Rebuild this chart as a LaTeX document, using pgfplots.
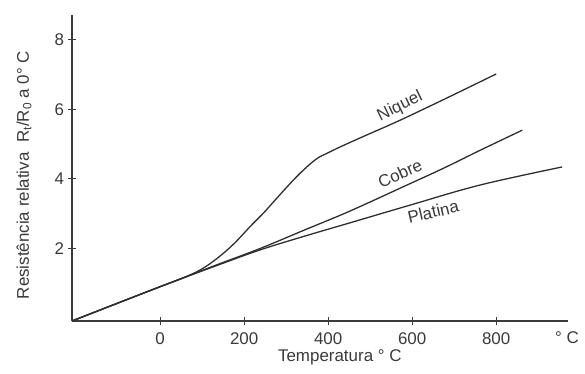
\documentclass[border=0pt]{standalone}
\usepackage{pgfplots}
\pgfplotsset{compat=1.18}
\usepackage{fontspec}
\setmainfont{Liberation Sans}
\usetikzlibrary{calc}
\definecolor{ink}{HTML}{3A3A3A}
\definecolor{curve}{HTML}{2E2E2E}
\newcommand{\fs}{\fontsize{17}{19}\selectfont}
\begin{document}
\begin{tikzpicture}
\begin{axis}[name=ax, scale only axis, width=496bp, height=306bp,
  xmin=-210, xmax=971, ymin=-0.1, ymax=8.72,
  axis lines=left, axis line style={ink, line width=1.1pt, -},
  xtick={0,200,400,600,800}, ytick={2,4,6,8},
  tick align=center, major tick length=7bp, tick style={ink, line width=1pt},
  ticklabel style={font=\fs, text=ink},
  xticklabel style={yshift=-5bp},
  yticklabel style={xshift=-1bp},
  /pgf/number format/assume math mode=true,
  xlabel={Temperatura ° C},
  ylabel={Resistência relativa\ \ R\textsubscript{t}/R\textsubscript{0} a 0° C},
  label style={font=\fs, text=ink},
  xlabel style={at={(rel axis cs:0.54,0)}, anchor=center, yshift=-36bp},
  ylabel style={at={(rel axis cs:0,0.477)}, anchor=center, yshift=48bp},
  clip=false]
\addplot[curve, line width=1.3bp, smooth, tension=0.6] coordinates {
 (-210,-0.1) (-100,0.42) (0,0.89) (50,1.12) (95,1.37) (135,1.70) (175,2.12)
 (214,2.62) (245,3.0) (274,3.39) (310,3.87) (341,4.25) (373,4.58) (400,4.75)
 (429,4.92) (484,5.22) (548,5.56) (600,5.85) (700,6.43) (800,7.02)};
\addplot[curve, line width=1.3bp, smooth, tension=0.6] coordinates {
 (-210,-0.1) (-100,0.42) (0,0.89) (50,1.12) (135,1.52) (238,1.99) (345,2.53)
 (452,3.07) (595,3.86) (674,4.30) (760,4.81) (862,5.40)};
\addplot[curve, line width=1.3bp, smooth, tension=0.6] coordinates {
 (-210,-0.1) (-100,0.42) (0,0.89) (50,1.12) (135,1.50) (238,1.95) (345,2.35)
 (452,2.73) (595,3.24) (762,3.82) (957,4.34)};
\node[font=\fs, text=ink, rotate=26] at (axis cs:571,6.08) {Niquel};
\node[font=\fs, text=ink, rotate=24] at (axis cs:571,4.15) {Cobre};
\node[font=\fs, text=ink, rotate=13] at (axis cs:650,3.05) {Platina};
\node[font=\fs, text=ink] at (axis cs:971,-0.1) [xshift=-1bp, yshift=-17bp] {° C};
\end{axis}
\pgfresetboundingbox
\path[use as bounding box] ($(ax.south west)+(-72bp,-53bp)$) rectangle ($(ax.north east)+(17bp,15bp)$);
\end{tikzpicture}
\end{document}
